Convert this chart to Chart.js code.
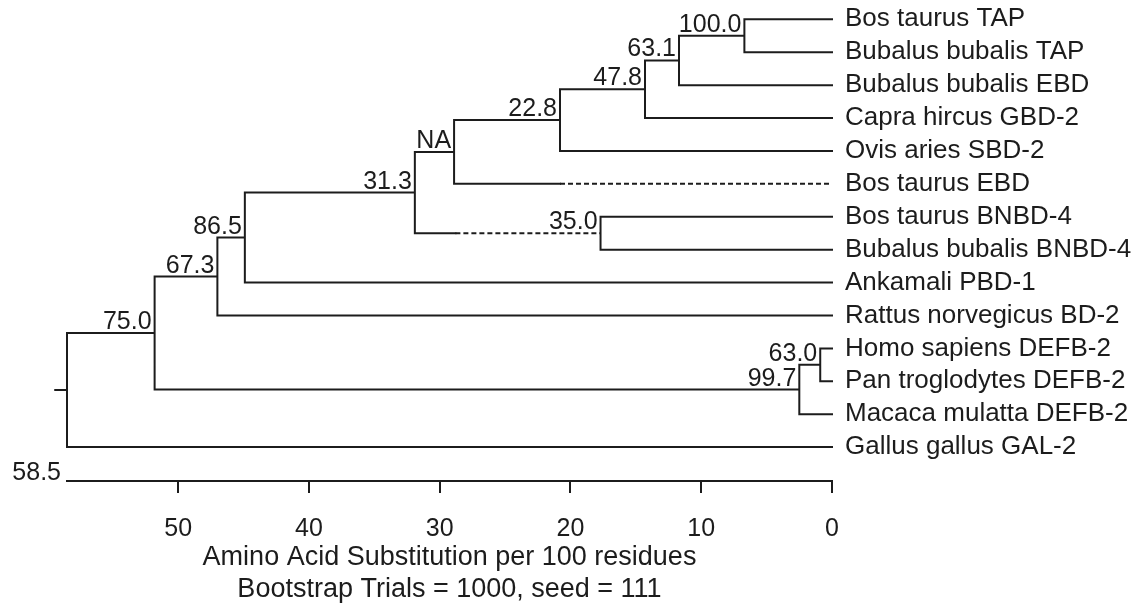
<!DOCTYPE html>
<html>
<head>
<meta charset="utf-8">
<script src="https://cdn.jsdelivr.net/npm/chart.js@4.4.1/dist/chart.umd.min.js"></script>
<style>
  html, body { margin: 0; padding: 0; background: #ffffff; }
  #wrap { width: 1148px; height: 606px; }
</style>
</head>
<body>
<div id="wrap"><canvas id="c" width="1148" height="606"></canvas></div>
<script>
// ---------------- data ----------------
const leafNames = [
  'Bos taurus TAP',
  'Bubalus bubalis TAP',
  'Bubalus bubalis EBD',
  'Capra hircus GBD-2',
  'Ovis aries SBD-2',
  'Bos taurus EBD',
  'Bos taurus BNBD-4',
  'Bubalus bubalis BNBD-4',
  'Ankamali PBD-1',
  'Rattus norvegicus BD-2',
  'Homo sapiens DEFB-2',
  'Pan troglodytes DEFB-2',
  'Macaca mulatta DEFB-2',
  'Gallus gallus GAL-2'
];
// internal nodes (children listed before parents); L = leaf index, N = node index
const nodeChildren = [
  ['L0', 'L1'], ['N0', 'L2'], ['N1', 'L3'], ['N2', 'L4'], ['N3', 'L5'],
  ['L6', 'L7'], ['N4', 'N5'], ['N6', 'L8'], ['N7', 'L9'],
  ['L10', 'L11'], ['N9', 'L12'], ['N8', 'N10'], ['N11', 'L13']
];
// node depth, read on the substitution axis (distance from the tips)
const nodeDepth = [6.7, 11.7, 14.3, 20.8, 28.9, 17.7, 31.9, 44.9, 47.0, 0.9, 2.5, 51.8, 58.5];
const bootstrapLabels = ['100.0', '63.1', '47.8', '22.8', 'NA', '35.0', '31.3', '86.5', '67.3', '63.0', '99.7', '75.0', ''];
// branches drawn dashed from this depth down to the child
const dashedBranches = ['L5', 'N5'];
const dashStart = [20.8, 28.8];
const xTicks = [50, 40, 30, 20, 10, 0];
const rootStub = 0.9;
const axisTitle = ['Amino Acid Substitution per 100 residues', 'Bootstrap Trials = 1000, seed = 111'];

// ---------------- tree layout from data ----------------
function depthOf(id) { return id[0] === 'L' ? 0 : nodeDepth[+id.slice(1)]; }
function rowOf(id) {
  if (id[0] === 'L') return +id.slice(1) + 1;
  const ch = nodeChildren[+id.slice(1)];
  return (rowOf(ch[0]) + rowOf(ch[ch.length - 1])) / 2;
}
function dashFor(id) { const k = dashedBranches.indexOf(id); return k >= 0 ? dashStart[k] : null; }

const solidPts = [];
const dashPts = [];
nodeChildren.forEach((ch, i) => {
  const h = nodeDepth[i];
  const a = ch[0], b = ch[ch.length - 1];
  const ea = dashFor(a) !== null ? dashFor(a) : depthOf(a);
  const eb = dashFor(b) !== null ? dashFor(b) : depthOf(b);
  solidPts.push({x: ea, y: rowOf(a)}, {x: h, y: rowOf(a)}, {x: h, y: rowOf(b)}, {x: eb, y: rowOf(b)}, {x: h, y: null});
  [a, b].forEach(c => {
    const d = dashFor(c);
    if (d !== null) dashPts.push({x: d, y: rowOf(c)}, {x: depthOf(c), y: rowOf(c)}, {x: d, y: null});
  });
});
const rootId = 'N' + (nodeChildren.length - 1);
const rootDepth = nodeDepth[nodeDepth.length - 1];
solidPts.push({x: rootDepth + rootStub, y: rowOf(rootId)}, {x: rootDepth, y: rowOf(rootId)});

// ---------------- chart ----------------
const FONT = "'Liberation Sans', Arial, sans-serif";
const INK = '#1c1c1c';

const labelPlugin = {
  id: 'treeLabels',
  afterDatasetsDraw(chart) {
    const {ctx, scales: {x, y}} = chart;
    ctx.save();
    ctx.fillStyle = INK;
    ctx.font = '25px ' + FONT;
    ctx.textAlign = 'right';
    ctx.textBaseline = 'alphabetic';
    nodeChildren.forEach((ch, i) => {
      const t = bootstrapLabels[i];
      if (!t) return;
      ctx.fillText(t, x.getPixelForValue(nodeDepth[i]) - 3, y.getPixelForValue(rowOf('N' + i)) - 4);
    });
    ctx.fillText(x.max.toFixed(1), x.left - 6, x.top - 1);
    ctx.restore();
  }
};

new Chart(document.getElementById('c'), {
  type: 'line',
  data: {
    datasets: [
      {
        data: solidPts, borderColor: INK, borderWidth: 2, pointRadius: 0,
        tension: 0, fill: false, spanGaps: false, clip: false,
        borderCapStyle: 'square', borderJoinStyle: 'miter'
      },
      {
        data: dashPts, borderColor: INK, borderWidth: 2, pointRadius: 0,
        tension: 0, fill: false, spanGaps: false, borderDash: [5, 3]
      }
    ]
  },
  options: {
    responsive: false,
    animation: false,
    devicePixelRatio: 1,
    layout: { padding: { left: 67, top: 0, right: 0, bottom: 0 } },
    plugins: { legend: { display: false }, tooltip: { enabled: false } },
    scales: {
      x: {
        type: 'linear', position: 'bottom', reverse: true,
        min: 0, max: rootDepth,
        afterBuildTicks(s) { s.ticks = xTicks.map(v => ({value: v})); },
        afterFit(s) { s.height = 125; },
        grid: { display: true, drawOnChartArea: false, drawTicks: true, tickLength: 12, color: INK, lineWidth: 2 },
        border: { display: true, color: INK, width: 2 },
        ticks: { color: INK, font: { family: FONT, size: 25 }, padding: 21, maxRotation: 0 },
        title: { display: true, text: axisTitle, color: INK, font: { family: FONT, size: 27, lineHeight: 1.19 }, padding: { top: 0, bottom: 0 } }
      },
      y: {
        type: 'linear', position: 'right', reverse: true,
        min: 0.413, max: 15.03,
        afterBuildTicks(s) { s.ticks = leafNames.map((_, i) => ({value: i + 1})); },
        afterFit(s) { s.width = 316; s.paddingTop = 0; s.paddingBottom = 0; },
        grid: { display: false, drawTicks: false },
        border: { display: false },
        ticks: { color: INK, font: { family: FONT, size: 26 }, padding: 13, autoSkip: false,
          callback: (v) => leafNames[Math.round(v) - 1] }
      }
    }
  },
  plugins: [labelPlugin]
});
</script>
</body>
</html>
